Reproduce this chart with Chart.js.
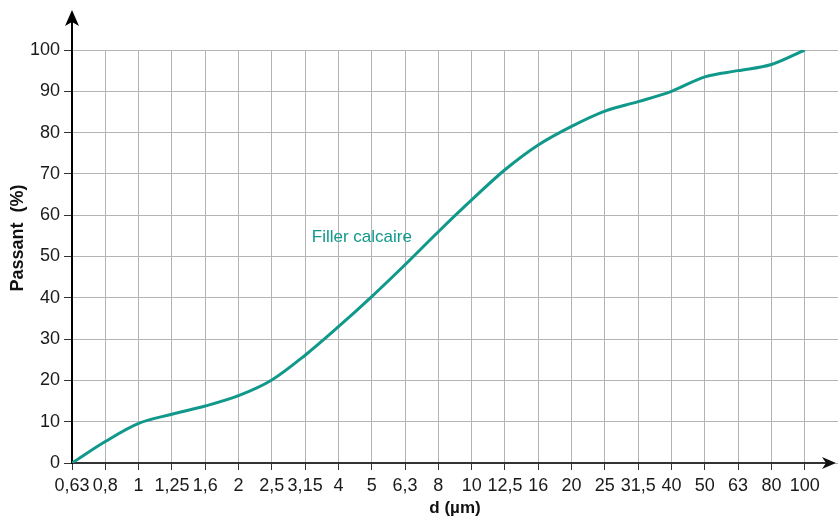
<!DOCTYPE html>
<html>
<head>
<meta charset="utf-8">
<script src="https://cdn.jsdelivr.net/npm/chart.js@4"></script>
<style>
  html, body { margin: 0; padding: 0; background: #fff; }
  canvas { display: block; }
</style>
</head>
<body>
<canvas id="granuloChart" width="838" height="520"></canvas>
<script>
// sieve sizes (µm), equally spaced on the axis
const sizes = ["0,63", "0,8", "1", "1,25", "1,6", "2", "2,5", "3,15", "4", "5", "6,3", "8", "10",
               "12,5", "16", "20", "25", "31,5", "40", "50", "63", "80", "100"];
// percentage passing
const passing = [0, 5.2, 9.6, 11.8, 13.8, 16.3, 20.1, 26.1, 33, 40.3, 48, 56, 63.7,
                 71, 77, 81.5, 85.2, 87.5, 90, 93.5, 95, 96.5, 100];
const yTicks = [0, 10, 20, 30, 40, 50, 60, 70, 80, 90, 100];
const seriesName = "Filler calcaire";
const seriesLabelAt = { x: 7.2, y: 54.7 };

const TEAL = "#10998b";
const FONT = "'Liberation Sans', Arial, sans-serif";

// ** Axes with arrows + labels drawn on top of the grid **
const axesPlugin = {
    id: "axesArrows",
    beforeDatasetsDraw(chart) {
        const ctx = chart.ctx;
        const area = chart.chartArea;
        const x0 = chart.scales.x.getPixelForValue(0);
        const y0 = chart.scales.y.getPixelForValue(0);
        ctx.save();
        // x axis
        ctx.strokeStyle = "#333";
        ctx.fillStyle = "#111";
        ctx.lineWidth = 2;
        ctx.beginPath();
        ctx.moveTo(x0, y0);
        ctx.lineTo(area.right - 8, y0);
        ctx.stroke();
        ctx.beginPath();
        ctx.moveTo(area.right - 2, y0);
        ctx.lineTo(area.right - 16, y0 - 6);
        ctx.lineTo(area.right - 12, y0);
        ctx.lineTo(area.right - 16, y0 + 6);
        ctx.closePath();
        ctx.fill();
        // y axis
        ctx.strokeStyle = "#000";
        ctx.beginPath();
        ctx.moveTo(x0, y0 + 1);
        ctx.lineTo(x0, 18);
        ctx.stroke();
        ctx.fillStyle = "#000";
        ctx.beginPath();
        ctx.moveTo(x0, 10);
        ctx.lineTo(x0 - 7, 26);
        ctx.lineTo(x0, 22);
        ctx.lineTo(x0 + 7, 26);
        ctx.closePath();
        ctx.fill();
        ctx.restore();
    },
    afterDraw(chart) {
        const ctx = chart.ctx;
        ctx.save();
        // y title
        ctx.translate(18, 238);
        ctx.rotate(-Math.PI / 2);
        ctx.font = "bold 18px " + FONT;
        ctx.fillStyle = "#111";
        ctx.textAlign = "center";
        ctx.textBaseline = "middle";
        ctx.fillText("Passant  (%)", 0, 0);
        ctx.restore();
        // series label
        ctx.save();
        ctx.font = "17px " + FONT;
        ctx.fillStyle = TEAL;
        ctx.textAlign = "left";
        ctx.textBaseline = "middle";
        ctx.fillText(seriesName,
            chart.scales.x.getPixelForValue(seriesLabelAt.x),
            chart.scales.y.getPixelForValue(seriesLabelAt.y));
        ctx.restore();
    }
};

function renderChart() {
    const ctx = document.getElementById("granuloChart").getContext("2d");
    new Chart(ctx, {
        type: "line",
        data: {
            datasets: [{
                label: seriesName,
                data: passing.map((v, i) => ({ x: i, y: v })),
                borderColor: TEAL,
                borderWidth: 3,
                pointRadius: 0,
                cubicInterpolationMode: "monotone",
                fill: false
            }]
        },
        options: {
            responsive: false,
            devicePixelRatio: 1,
            animation: false,
            layout: { padding: { top: 50, right: 0, left: 0, bottom: 0 } },
            plugins: { legend: { display: false }, tooltip: { enabled: false } },
            scales: {
                x: {
                    type: "linear",
                    min: 0,
                    max: sizes.length,
                    afterBuildTicks: axis => {
                        axis.ticks = sizes.map((s, i) => ({ value: i }));
                    },
                    afterFit: axis => { axis.height = 57; },
                    border: { display: false },
                    grid: { color: "#b4b4b4", lineWidth: 1, tickLength: 7, tickColor: "#333", drawTicks: true },
                    ticks: {
                        autoSkip: false,
                        maxRotation: 0,
                        padding: 5,
                        color: "#1a1a1a",
                        font: { family: FONT, size: 18 },
                        callback: v => sizes[v]
                    },
                    title: {
                        display: true,
                        text: "d (µm)",
                        color: "#111",
                        font: { family: FONT, size: 17, weight: "bold" },
                        padding: { top: 0, bottom: 1 }
                    }
                },
                y: {
                    min: 0,
                    max: 100,
                    afterBuildTicks: axis => {
                        axis.ticks = yTicks.map(v => ({ value: v }));
                    },
                    afterFit: axis => { axis.width = 72; },
                    border: { display: false },
                    grid: { color: "#b4b4b4", lineWidth: 1, tickLength: 8, tickColor: "#333" },
                    ticks: {
                        padding: 4,
                        color: "#1a1a1a",
                        font: { family: FONT, size: 18 }
                    }
                }
            }
        },
        plugins: [axesPlugin]
    });
}

document.addEventListener("DOMContentLoaded", renderChart);
</script>
</body>
</html>
